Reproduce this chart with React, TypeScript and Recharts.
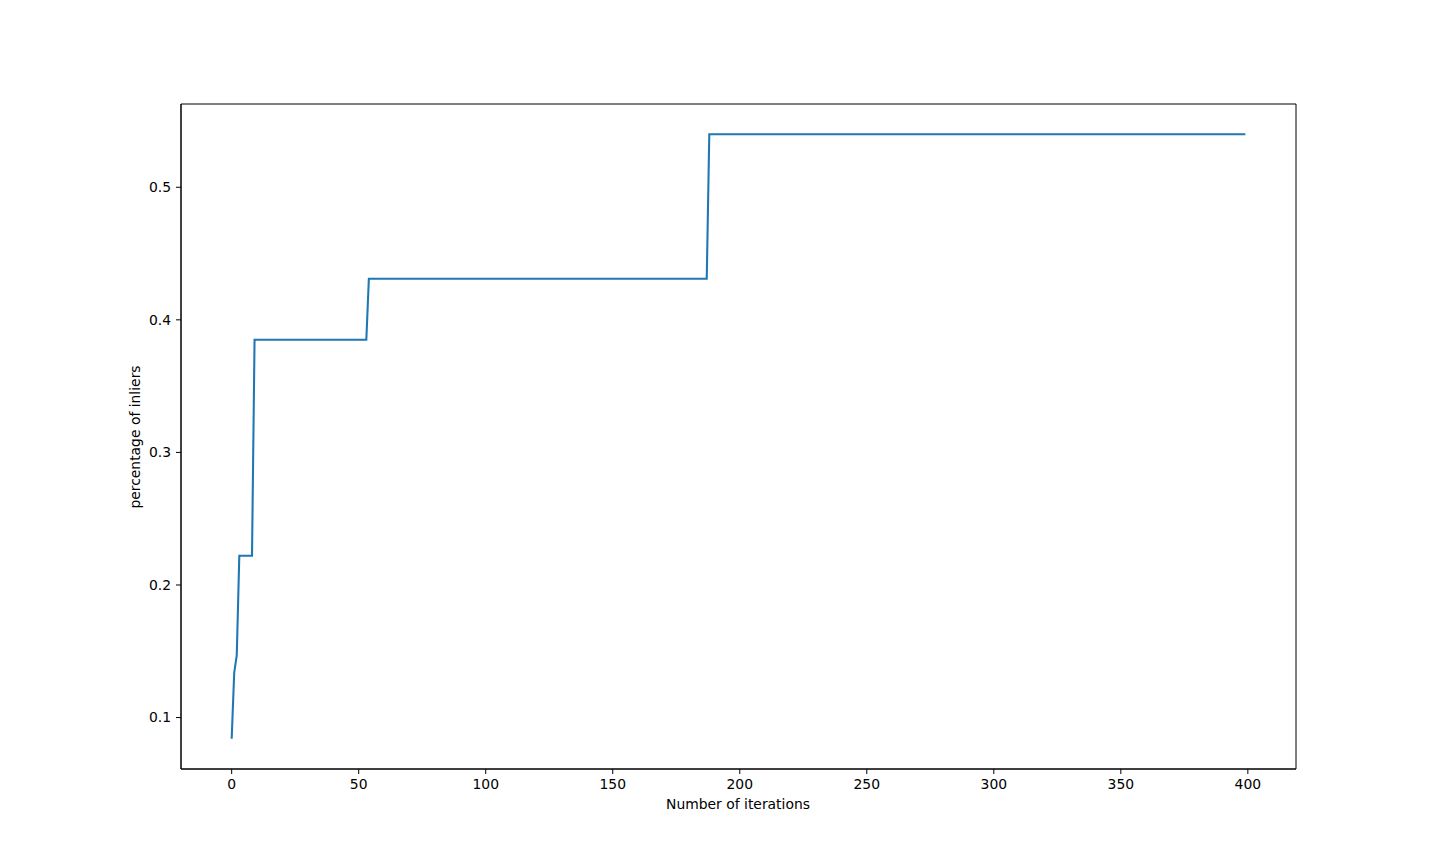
import React from "react";
import { LineChart, Line, XAxis, YAxis, ReferenceArea } from "recharts";

const iterations = [0, 1, 2, 3, 8, 9, 53, 54, 187, 188, 399];
const inliers = [0.084, 0.134, 0.147, 0.222, 0.222, 0.385, 0.385, 0.431, 0.431, 0.54, 0.54];
const xTicks = [0, 50, 100, 150, 200, 250, 300, 350, 400];
const yTicks = [0.1, 0.2, 0.3, 0.4, 0.5];

const data = iterations.map((it, i) => ({ it, v: inliers[i] }));

const X_DOMAIN: [number, number] = [-19.95, 418.95];
const Y_DOMAIN: [number, number] = [0.0612, 0.5628];

const FONT = "DejaVu Sans, sans-serif";
const tickStyle = { fill: "#000", fontSize: 13.9, fontFamily: FONT };

export default function App() {
  return (
    <div style={{ position: "absolute", left: 0, top: 0, width: 1440, height: 864, background: "#fff" }}>
      <LineChart
        width={1440}
        height={864}
        data={data}
        margin={{ top: 104, right: 144, bottom: 55, left: 121 }}
      >
        <XAxis
          dataKey="it"
          type="number"
          domain={X_DOMAIN}
          ticks={xTicks}
          allowDataOverflow
          height={40}
          tickSize={5}
          tickMargin={5}
          tick={tickStyle}
          axisLine={{ stroke: "#000" }}
          tickLine={{ stroke: "#000" }}
          interval={0}
        />
        <YAxis
          type="number"
          domain={Y_DOMAIN}
          ticks={yTicks}
          allowDataOverflow
          width={60}
          tickSize={5}
          tickMargin={5}
          tick={tickStyle}
          axisLine={{ stroke: "#000" }}
          tickLine={{ stroke: "#000" }}
          interval={0}
        />
        <ReferenceArea
          x1={X_DOMAIN[0]}
          x2={X_DOMAIN[1]}
          y1={Y_DOMAIN[0]}
          y2={Y_DOMAIN[1]}
          fill="none"
          fillOpacity={0}
          stroke="#000"
          strokeWidth={1}
          strokeOpacity={1}
          ifOverflow="visible"
        />
        <Line
          dataKey="v"
          type="linear"
          stroke="#1f77b4"
          strokeWidth={2.08}
          dot={false}
          activeDot={false}
          isAnimationActive={false}
        />
        <text x={738} y={804} textAnchor="middle" dominantBaseline="central" style={{ fontSize: 13.9, fontFamily: FONT, fill: "#000" }}>
          Number of iterations
        </text>
        <text
          x={135}
          y={437}
          textAnchor="middle"
          dominantBaseline="central"
          transform="rotate(-90 135 437)"
          style={{ fontSize: 13.9, fontFamily: FONT, fill: "#000" }}
        >
          percentage of inliers
        </text>
      </LineChart>
    </div>
  );
}
